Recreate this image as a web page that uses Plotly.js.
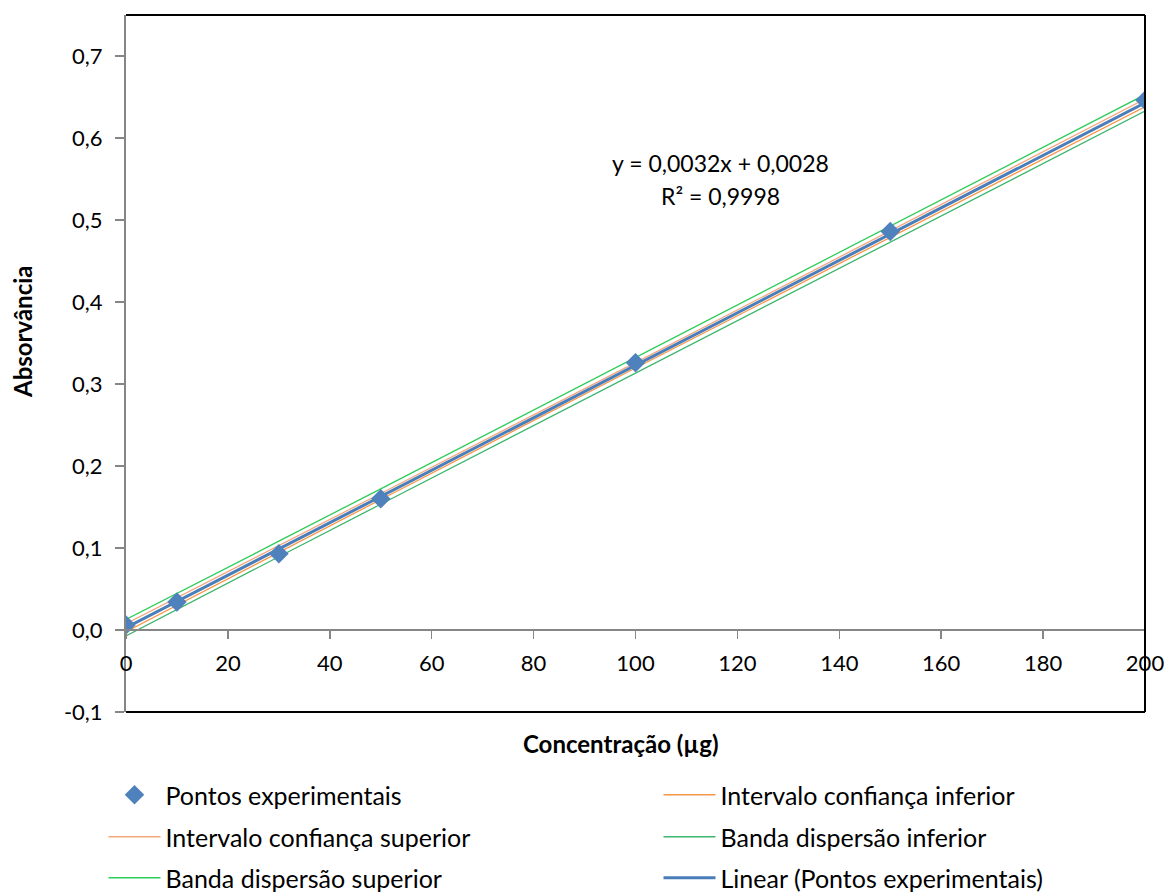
<!DOCTYPE html>
<html>
<head>
<meta charset="utf-8">
<script src="https://cdn.plot.ly/plotly-3.0.1.min.js"></script>
<style>html,body{margin:0;padding:0;background:#fff;}#chart{width:1170px;height:896px;}</style>
</head>
<body>
<div id="chart"></div>
<script>
// ---- data ----
const concentration = [0, 10, 30, 50, 100, 150, 200];
const absorbance    = [0.006, 0.034, 0.093, 0.160, 0.326, 0.486, 0.646];
const ciLower = [-0.0020, 0.0303, 0.0948, 0.1591, 0.3195, 0.4791, 0.6380];
const ciUpper = [0.0076, 0.0393, 0.1028, 0.1665, 0.3261, 0.4865, 0.6476];
const piLower = [-0.0072, 0.0252, 0.0893, 0.1534, 0.3135, 0.4734, 0.6328];
const piUpper = [0.0128, 0.0444, 0.1083, 0.1722, 0.3321, 0.4922, 0.6528];
const trendX = [0, 200];
const trendY = [0.0028, 0.6428];
const xTickVals = [0, 20, 40, 60, 80, 100, 120, 140, 160, 180, 200];
const xTickText = ["0","20","40","60","80","100","120","140","160","180","200"];
const yTickVals = [-0.1, 0, 0.1, 0.2, 0.3, 0.4, 0.5, 0.6, 0.7];
const yTickText = ["-0,1","0,0","0,1","0,2","0,3","0,4","0,5","0,6","0,7"];
const equationText = "y = 0,0032x + 0,0028";
const r2Text = "R² = 0,9998";

const FONT = "Lato, 'Open Sans', sans-serif";

const traces = [
  {x: concentration, y: piLower, mode: 'lines', name: 'Banda dispersão inferior',
   line: {color: '#3CB56E', width: 1.3}, legend: 'legend4'},
  {x: concentration, y: piUpper, mode: 'lines', name: 'Banda dispersão superior',
   line: {color: '#2ECC5A', width: 1.3}, legend: 'legend5'},
  {x: concentration, y: ciLower, mode: 'lines', name: 'Intervalo confiança inferior',
   line: {color: '#F79646', width: 1.3}, legend: 'legend2'},
  {x: concentration, y: ciUpper, mode: 'lines', name: 'Intervalo confiança superior',
   line: {color: '#F4A77C', width: 1.3}, legend: 'legend3'},
  {x: trendX, y: trendY, mode: 'lines', name: 'Linear (Pontos experimentais)',
   line: {color: '#4A7EBB', width: 3}, legend: 'legend6'},
  {x: concentration, y: absorbance, mode: 'markers', name: 'Pontos experimentais',
   marker: {symbol: 'diamond', size: 15, color: '#4F81BD', line: {width: 0}}, legend: 'legend'}
];

const PLOT_L = 126, PLOT_W = 1019, PLOT_B = 712, PLOT_H = 697;
function legendAt(px, py) {
  return {orientation: 'v', x: (px - PLOT_L) / PLOT_W, xanchor: 'left',
    y: (PLOT_B - py) / PLOT_H, yanchor: 'middle', itemwidth: 52,
    font: {family: FONT, size: 25, color: '#000'}, bgcolor: 'rgba(0,0,0,0)', borderwidth: 0};
}

const layout = {
  width: 1170, height: 896,
  margin: {l: 126, r: 25, t: 15, b: 184, autoexpand: false},
  paper_bgcolor: '#fff', plot_bgcolor: '#fff',
  font: {family: FONT, size: 22, color: '#000'},
  showlegend: true,
  xaxis: {
    range: [0, 200], tickvals: xTickVals, ticktext: xTickText,
    anchor: 'free', position: 0.1 / 0.85, automargin: false,
    showline: true, linecolor: '#868686', linewidth: 2,
    ticks: 'outside', ticklen: 8, tickcolor: '#868686', tickwidth: 1.5,
    ticklabelstandoff: 6,
    showgrid: false, zeroline: false,
    tickfont: {family: FONT, size: 22, color: '#000'}
  },
  yaxis: {
    range: [-0.1, 0.75], tickvals: yTickVals, ticktext: yTickText, automargin: false,
    showline: true, linecolor: '#868686', linewidth: 2,
    ticks: 'outside', ticklen: 9, tickcolor: '#868686', tickwidth: 1.5,
    ticklabelstandoff: 8,
    showgrid: false, zeroline: false,
    tickfont: {family: FONT, size: 22, color: '#000'}
  },
  legend:  legendAt(103.5, 795),
  legend2: legendAt(658.5, 795),
  legend3: legendAt(103.5, 837),
  legend4: legendAt(658.5, 837),
  legend5: legendAt(103.5, 878),
  legend6: legendAt(658.5, 878),
  shapes: [
    {type: 'line', xref: 'paper', yref: 'paper', x0: 0, x1: 1, y0: 1, y1: 1, line: {color: '#000', width: 2}},
    {type: 'line', xref: 'paper', yref: 'paper', x0: 1, x1: 1, y0: 0, y1: 1, line: {color: '#000', width: 2}},
    {type: 'line', xref: 'paper', yref: 'paper', x0: 0, x1: 1, y0: 0, y1: 0, line: {color: '#000', width: 2}}
  ],
  annotations: [
    {text: equationText, x: (720 - PLOT_L) / PLOT_W, y: (PLOT_B - 163) / PLOT_H, xref: 'paper', yref: 'paper',
     showarrow: false, font: {family: FONT, size: 23, color: '#000'}, xanchor: 'center', yanchor: 'middle'},
    {text: r2Text, x: (720 - PLOT_L) / PLOT_W, y: (PLOT_B - 196) / PLOT_H, xref: 'paper', yref: 'paper',
     showarrow: false, font: {family: FONT, size: 23, color: '#000'}, xanchor: 'center', yanchor: 'middle'},
    {text: '<b>Concentração (µg)</b>', x: (620 - PLOT_L) / PLOT_W, y: (PLOT_B - 743) / PLOT_H, xref: 'paper', yref: 'paper',
     showarrow: false, font: {family: FONT, size: 24, color: '#000'}, xanchor: 'center', yanchor: 'middle'},
    {text: '<b>Absorvância</b>', x: (22 - PLOT_L) / PLOT_W, y: (PLOT_B - 332) / PLOT_H, xref: 'paper', yref: 'paper',
     showarrow: false, textangle: -90, font: {family: FONT, size: 24, color: '#000'}, xanchor: 'center', yanchor: 'middle'}
  ]
};

Plotly.newPlot('chart', traces, layout, {displayModeBar: false, staticPlot: true});
</script>
</body>
</html>
